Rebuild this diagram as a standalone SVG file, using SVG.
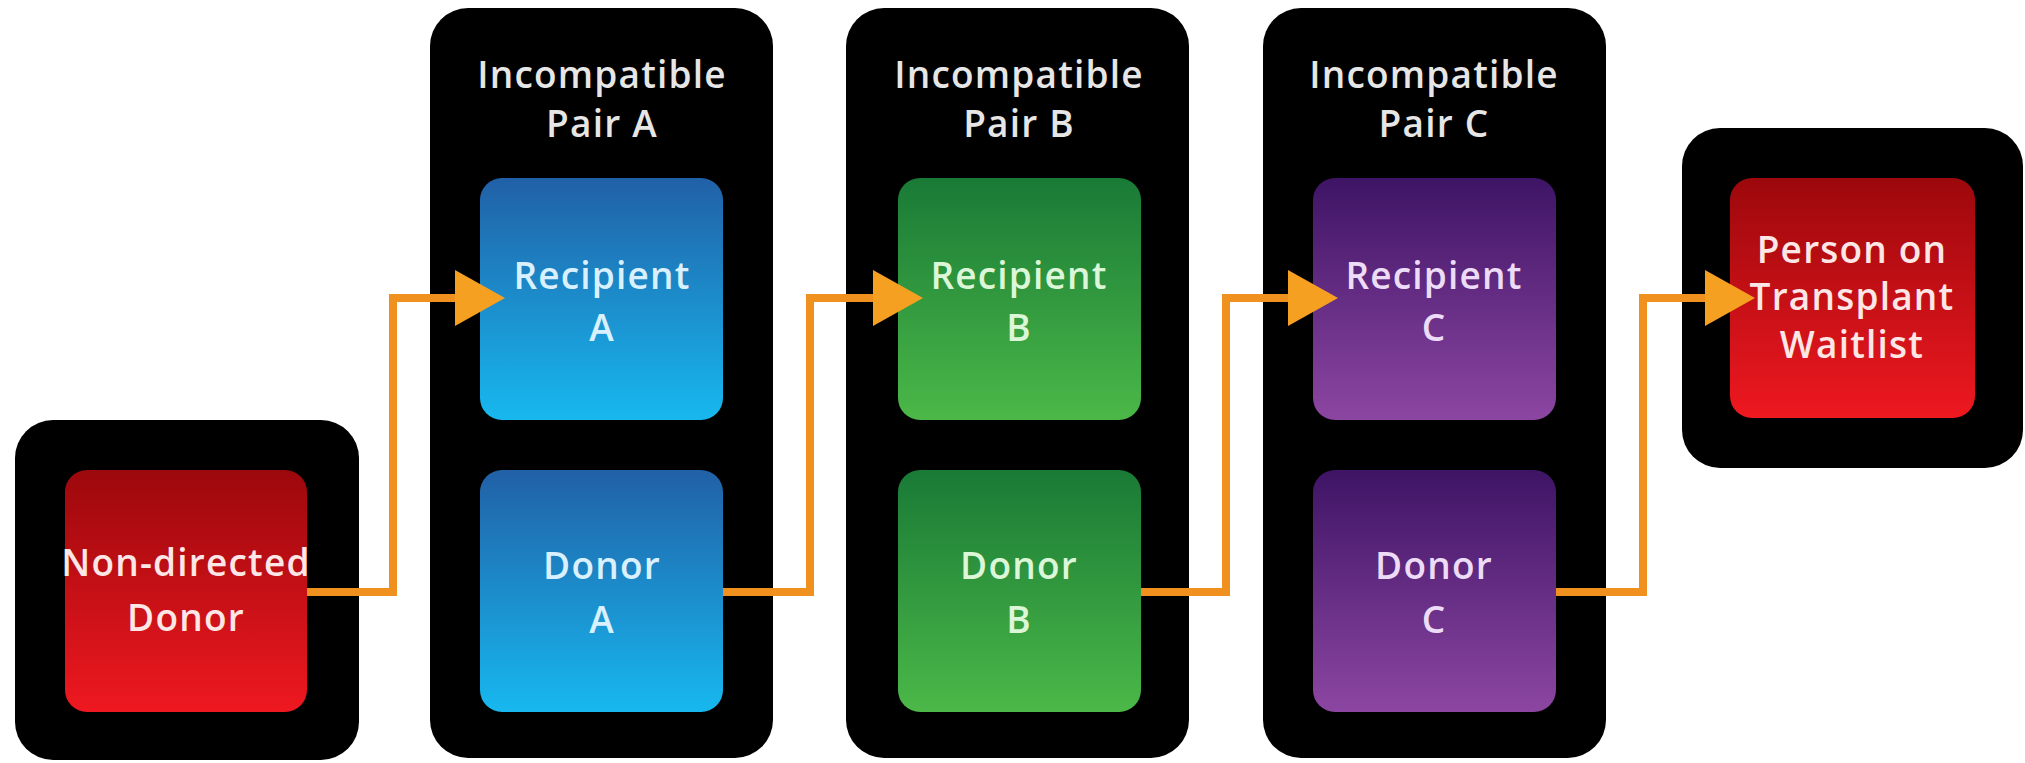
<svg xmlns="http://www.w3.org/2000/svg" width="2025" height="763" viewBox="0 0 2025 763">
  <defs>
    <linearGradient id="gRed" x1="0" y1="0" x2="0" y2="1">
      <stop offset="0" stop-color="#9c080c"/>
      <stop offset="1" stop-color="#ee1820"/>
    </linearGradient>
    <linearGradient id="gBlue" x1="0" y1="0" x2="0" y2="1">
      <stop offset="0" stop-color="#2160a6"/>
      <stop offset="1" stop-color="#17b8ef"/>
    </linearGradient>
    <linearGradient id="gGreen" x1="0" y1="0" x2="0" y2="1">
      <stop offset="0" stop-color="#197a36"/>
      <stop offset="1" stop-color="#4bb848"/>
    </linearGradient>
    <linearGradient id="gPurple" x1="0" y1="0" x2="0" y2="1">
      <stop offset="0" stop-color="#3e1465"/>
      <stop offset="1" stop-color="#8c46a2"/>
    </linearGradient>
    <marker id="arrow" viewBox="0 0 50 56" refX="10" refY="28" markerUnits="userSpaceOnUse" markerWidth="50" markerHeight="56" orient="auto">
      <path d="M0 0 L50 28 L0 56 Z" fill="#f5a020"/>
    </marker>
    <style>
      .outer { fill: #000000; }
      .inner { stroke: none; }
      .title { font-family: "Open Sans", "Liberation Sans", sans-serif; font-weight: 600; font-size: 37px; letter-spacing: 1.2px; fill: #e6e6e6; text-anchor: middle; }
      .lbl { font-family: "Open Sans", "Liberation Sans", sans-serif; font-weight: 600; font-size: 37px; letter-spacing: 1.2px; text-anchor: middle; }
      .tRed { fill: #fde6e6; }
      .tBlue { fill: #d9f1ff; }
      .tGreen { fill: #dcf7d8; }
      .tPurple { fill: #eddcf7; }
      .conn { fill: none; stroke: #f0901e; stroke-width: 8; stroke-linejoin: miter; marker-end: url(#arrow); }
    </style>
  </defs>
  <rect x="0" y="0" width="2025" height="763" fill="#ffffff"/>

  <g id="non-directed-donor">
    <rect class="outer" x="15" y="420" width="344" height="340" rx="38"/>
    <rect class="inner" x="65" y="470" width="242" height="242" rx="22" fill="url(#gRed)"/>
    <text class="lbl tRed" x="186" y="576">Non-directed</text>
    <text class="lbl tRed" x="186" y="631">Donor</text>
  </g>

  <g id="pair-a">
    <rect class="outer" x="430" y="8" width="343" height="750" rx="38"/>
    <text class="title" x="602" y="88">Incompatible</text>
    <text class="title" x="602" y="137">Pair A</text>
    <g id="recipient-a">
      <rect class="inner" x="480" y="178" width="243" height="242" rx="22" fill="url(#gBlue)"/>
      <text class="lbl tBlue" x="602" y="289">Recipient</text>
      <text class="lbl tBlue" x="602" y="341">A</text>
    </g>
    <g id="donor-a">
      <rect class="inner" x="480" y="470" width="243" height="242" rx="22" fill="url(#gBlue)"/>
      <text class="lbl tBlue" x="602" y="579">Donor</text>
      <text class="lbl tBlue" x="602" y="633">A</text>
    </g>
  </g>

  <g id="pair-b">
    <rect class="outer" x="846" y="8" width="343" height="750" rx="38"/>
    <text class="title" x="1019" y="88">Incompatible</text>
    <text class="title" x="1019" y="137">Pair B</text>
    <g id="recipient-b">
      <rect class="inner" x="898" y="178" width="243" height="242" rx="22" fill="url(#gGreen)"/>
      <text class="lbl tGreen" x="1019" y="289">Recipient</text>
      <text class="lbl tGreen" x="1019" y="341">B</text>
    </g>
    <g id="donor-b">
      <rect class="inner" x="898" y="470" width="243" height="242" rx="22" fill="url(#gGreen)"/>
      <text class="lbl tGreen" x="1019" y="579">Donor</text>
      <text class="lbl tGreen" x="1019" y="633">B</text>
    </g>
  </g>

  <g id="pair-c">
    <rect class="outer" x="1263" y="8" width="343" height="750" rx="38"/>
    <text class="title" x="1434" y="88">Incompatible</text>
    <text class="title" x="1434" y="137">Pair C</text>
    <g id="recipient-c">
      <rect class="inner" x="1313" y="178" width="243" height="242" rx="22" fill="url(#gPurple)"/>
      <text class="lbl tPurple" x="1434" y="289">Recipient</text>
      <text class="lbl tPurple" x="1434" y="341">C</text>
    </g>
    <g id="donor-c">
      <rect class="inner" x="1313" y="470" width="243" height="242" rx="22" fill="url(#gPurple)"/>
      <text class="lbl tPurple" x="1434" y="579">Donor</text>
      <text class="lbl tPurple" x="1434" y="633">C</text>
    </g>
  </g>

  <g id="person-on-waitlist">
    <rect class="outer" x="1682" y="128" width="341" height="340" rx="38"/>
    <rect class="inner" x="1730" y="178" width="245" height="240" rx="22" fill="url(#gRed)"/>
    <text class="lbl tRed" x="1852" y="263">Person on</text>
    <text class="lbl tRed" x="1852" y="310">Transplant</text>
    <text class="lbl tRed" x="1852" y="358">Waitlist</text>
  </g>

  <g id="connectors">
    <path class="conn" d="M307 592 H393 V298 H465"/>
    <path class="conn" d="M723 592 H810 V298 H883"/>
    <path class="conn" d="M1141 592 H1226 V298 H1298"/>
    <path class="conn" d="M1556 592 H1643 V298 H1715"/>
  </g>
</svg>
